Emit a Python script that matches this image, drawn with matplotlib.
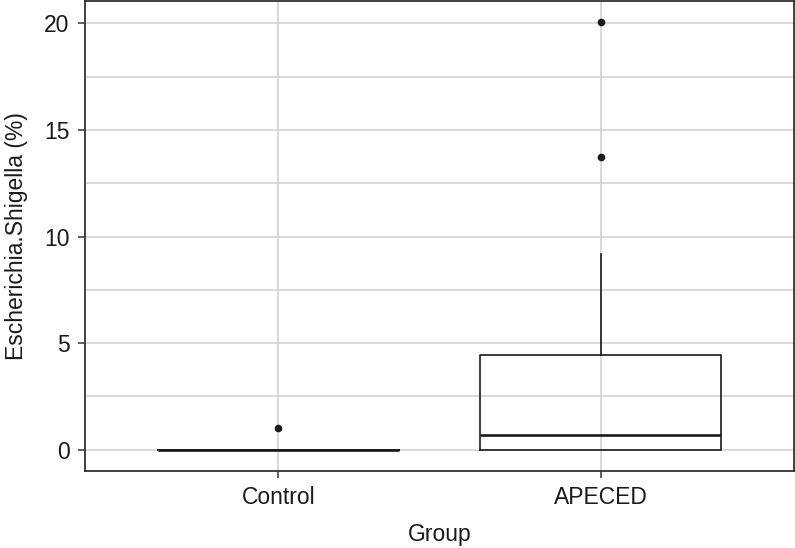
import matplotlib.pyplot as plt
import numpy as np

plt.rcParams['font.family'] = ['Liberation Sans', 'DejaVu Sans']

# Box summary values (%)
groups = ['Control', 'APECED']
q1 = [0.0, 0.0]
medians = [0.0, 0.68]
q3 = [0.0, 4.45]
whisker_low = [0.0, 0.0]
whisker_high = [0.0, 9.2]
outliers = [[1.02], [13.75, 20.05]]

stats = []
for i, g in enumerate(groups):
    stats.append(dict(label=g, med=medians[i], q1=q1[i], q3=q3[i],
                      whislo=whisker_low[i], whishi=whisker_high[i],
                      fliers=outliers[i]))

fig = plt.figure(figsize=(7.95, 5.48), dpi=100)
ax = fig.add_axes([85 / 795, 77 / 548, 709 / 795, 470 / 548])

positions = np.arange(1, len(groups) + 1)
ax.bxp(stats, positions=positions, widths=0.75, showcaps=False,
       boxprops=dict(color='#1a1a1a', linewidth=1.2),
       medianprops=dict(color='#1a1a1a', linewidth=1.9),
       whiskerprops=dict(color='#1a1a1a', linewidth=1.2),
       flierprops=dict(marker='o', markerfacecolor='#1a1a1a',
                       markeredgecolor='#1a1a1a', markersize=4.5),
       zorder=3)

ax.set_xlim(0.4, 2.6)
ax.set_ylim(-1.0, 21.05)
ax.set_yticks([0, 5, 10, 15, 20])
ax.set_yticks([2.5, 7.5, 12.5, 17.5], minor=True)
ax.set_xticks(positions)
ax.set_xticklabels(groups)

# light grey grid, minor lines between the y ticks
ax.grid(True, which='major', color='#d0d0d0', linewidth=1.1, zorder=0)
ax.grid(True, which='minor', axis='y', color='#d0d0d0', linewidth=1.1, zorder=0)
ax.set_axisbelow(True)

ax.tick_params(axis='both', which='major', length=5, width=1.1,
               color='#333333', labelsize=16.5, labelcolor='#1a1a1a', pad=6)
ax.tick_params(axis='y', which='minor', length=0)

for s in ax.spines.values():
    s.set_color('#333333')
    s.set_linewidth(1.3)

ax.set_xlabel('Group', fontsize=16.5, color='#1a1a1a', labelpad=10)
ax.set_ylabel('Escherichia.Shigella (%)', fontsize=16.5, color='#1a1a1a', labelpad=12)

plt.savefig('out.png', dpi=100)
